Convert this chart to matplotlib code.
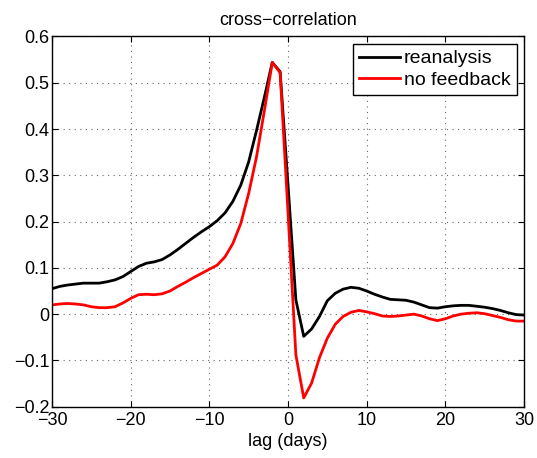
import matplotlib
matplotlib.use("Agg")
import matplotlib.pyplot as plt
import numpy as np

lags = list(range(-30, 31))
reanalysis = [0.055, 0.060, 0.063, 0.065, 0.067, 0.067, 0.067, 0.070, 0.074, 0.081,
              0.092, 0.103, 0.110, 0.113, 0.118, 0.128, 0.140, 0.153, 0.166, 0.178,
              0.189, 0.202, 0.219, 0.244, 0.279, 0.329, 0.397, 0.469, 0.544, 0.524,
              0.280,
              0.031, -0.048, -0.032, -0.005, 0.029, 0.045, 0.054, 0.058, 0.056, 0.050,
              0.043, 0.037, 0.032, 0.031, 0.030, 0.026, 0.020, 0.014, 0.013, 0.016,
              0.018, 0.019, 0.019, 0.017, 0.015, 0.012, 0.008, 0.003, -0.001, -0.002]
no_feedback = [0.020, 0.022, 0.023, 0.022, 0.020, 0.016, 0.014, 0.014, 0.016, 0.024,
               0.034, 0.042, 0.043, 0.042, 0.044, 0.050, 0.060, 0.069, 0.079, 0.088,
               0.097, 0.106, 0.124, 0.153, 0.196, 0.261, 0.340, 0.440, 0.544, 0.522,
               0.220,
               -0.088, -0.181, -0.149, -0.094, -0.052, -0.022, -0.005, 0.004, 0.008, 0.005,
               0.001, -0.004, -0.005, -0.004, -0.002, 0.000, -0.004, -0.010, -0.014, -0.010,
               -0.004, 0.000, 0.002, 0.003, 0.001, -0.003, -0.007, -0.012, -0.015, -0.015]
xticks = [-30, -20, -10, 0, 10, 20, 30]
yticks = [-0.2, -0.1, 0, 0.1, 0.2, 0.3, 0.4, 0.5, 0.6]

plt.rcParams['font.family'] = ['Liberation Sans', 'DejaVu Sans']
fig = plt.figure(figsize=(5.37, 4.58), dpi=100)
ax = fig.add_axes([52/537, 1-406.7/458, (524-52)/537, (406.7-36.5)/458])

ax.plot(lags, reanalysis, color='black', lw=2, label='reanalysis')
ax.plot(lags, no_feedback, color='red', lw=2, label='no feedback')

ax.set_xlim(-30, 30)
ax.set_ylim(-0.2, 0.6)
ax.set_xticks(xticks)
ax.set_yticks(yticks)
ax.set_yticklabels([f"{v:g}".replace('-', '\u2212') for v in yticks])
ax.grid(True, linestyle=(0, (1, 4)), color='#666666', lw=0.8)
ax.tick_params(direction='in', top=True, right=True, labelsize=13, length=4)
ax.tick_params(axis='y', pad=2)
ax.tick_params(axis='x', pad=4)
for s in ax.spines.values():
    s.set_linewidth(1.0)
ax.set_title('cross\u2212correlation', fontsize=13, pad=8)
ax.set_xlabel('lag (days)', fontsize=13, labelpad=3)

leg = ax.legend(loc='upper right', fontsize=14, frameon=True, fancybox=False,
                edgecolor='black', framealpha=1, handlelength=2.1,
                borderaxespad=0.38, borderpad=0.3, labelspacing=0.2, handletextpad=0.2)
leg.get_frame().set_linewidth(1.0)

fig.savefig('out.png', dpi=100)
